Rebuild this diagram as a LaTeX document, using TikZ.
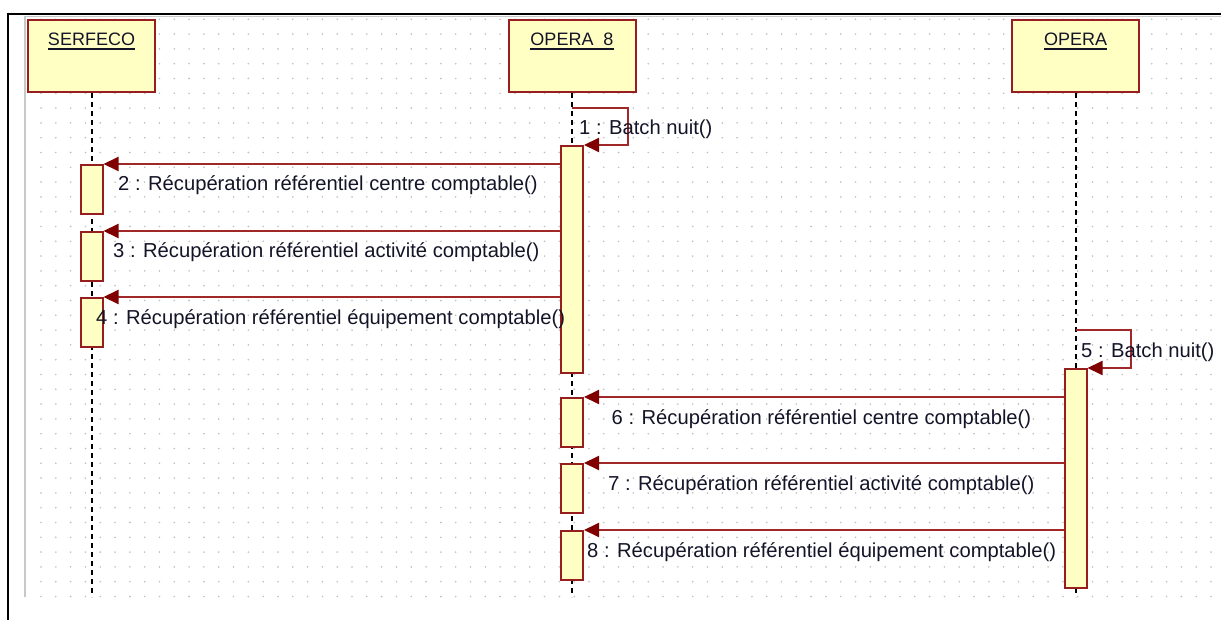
\documentclass[tikz,border=0pt]{standalone}
\usepackage{fontspec}
\setmainfont{Liberation Sans}
\usetikzlibrary{arrows.meta,calc}
\definecolor{boxfill}{RGB}{255,255,196}
\definecolor{boxline}{RGB}{150,30,30}
\definecolor{msgline}{RGB}{160,40,40}
\definecolor{headc}{RGB}{128,0,0}
\definecolor{dotc}{RGB}{190,190,190}
\definecolor{txt}{RGB}{20,20,40}
\definecolor{frameg}{RGB}{200,200,200}
\begin{document}
\begin{tikzpicture}[x=1pt,y=-1pt,
  lbl/.style={font=\fontsize{20.2}{23}\selectfont, text=txt, inner sep=0pt, anchor=base west},
  hdr/.style={font=\fontsize{18}{21}\selectfont, text=txt, inner sep=0pt, anchor=base},
  objbox/.style={draw=boxline, fill=boxfill, line width=2pt, minimum width=127pt, minimum height=72pt, inner sep=0pt, anchor=north},
  actbox/.style={draw=boxline, fill=boxfill, line width=2pt, minimum width=22pt, inner sep=0pt, anchor=north},
  lifeline/.style={black, line width=2pt, dash pattern=on 5pt off 4pt},
  msg/.style={msgline, line width=2pt, -{Triangle[length=15pt,width=14pt,color=headc,fill=headc]}},
  uline/.style={txt, line width=1.7pt}
]
\useasboundingbox (0,0) rectangle (1221,620);
% grid of dots
\foreach \i in {1,...,80}{\foreach \j in {0,...,39}{%
  \fill[dotc] ({26.2+14.81*\i},{19.3+14.8*\j}) circle (0.9pt);}}
% frame
\draw[frameg, line width=1.8pt] (25,16) -- (25,597);
\draw[frameg, line width=1pt] (25,16.5) -- (1221,16.5);
\draw[black, line width=2.6pt] (8,14) -- (1221,14);
\draw[black, line width=2.6pt] (8,12.7) -- (8,620);
% objects
\node[objbox] (serfeco) at (91.5,19) {};
\node[objbox] (opera8) at (572,19) {};
\node[objbox] (opera) at (1075.5,19) {};
\node[hdr] (tS) at (91.5,46) {SERFECO};
\node[hdr] (t8) at (572,46) {OPERA\ \ 8};
\node[hdr] (tO) at (1075.5,46) {OPERA};
\draw[uline] ($(tS.base west)+(0,3)$) -- ($(tS.base east)+(0,3)$);
\draw[uline] ($(t8.base west)+(0,3)$) -- ($(t8.base east)+(0,3)$);
\draw[uline] ($(tO.base west)+(0,3)$) -- ($(tO.base east)+(0,3)$);
% lifelines
\coordinate (endS) at (91.5,597);
\coordinate (end8) at (572,597);
\coordinate (endO) at (1075.5,597);
\draw[lifeline] (serfeco.south) -- (endS);
\draw[lifeline] (opera8.south) -- (end8);
\draw[lifeline] (opera.south) -- (endO);
% activations
\node[actbox, minimum height=227pt] (big8) at (572,145) {};
\node[actbox, minimum height=219pt] (bigO) at (1075.5,368) {};
\node[actbox, minimum height=49pt] (a2) at (91.5,164) {};
\node[actbox, minimum height=49pt] (a3) at (91.5,231) {};
\node[actbox, minimum height=49pt] (a4) at (91.5,297) {};
\node[actbox, minimum height=49pt] (a6) at (572,397) {};
\node[actbox, minimum height=49pt] (a7) at (572,463) {};
\node[actbox, minimum height=49pt] (a8) at (572,530) {};
% self calls
\coordinate (s1a) at (572,108);
\coordinate (s1b) at (628,108);
\coordinate (s1c) at (628,145);
\draw[msg] (s1a) -- (s1b) -- (s1c) -- (big8.north east);
\coordinate (s5a) at (1075.5,330);
\coordinate (s5b) at (1131,330);
\coordinate (s5c) at (1131,368);
\draw[msg] (s5a) -- (s5b) -- (s5c) -- (bigO.north east);
% messages
\draw[msg] (a2.north east -| big8.west) -- (a2.north east);
\draw[msg] (a3.north east -| big8.west) -- (a3.north east);
\draw[msg] (a4.north east -| big8.west) -- (a4.north east);
\draw[msg] (a6.north east -| bigO.west) -- (a6.north east);
\draw[msg] (a7.north east -| bigO.west) -- (a7.north east);
\draw[msg] (a8.north east -| bigO.west) -- (a8.north east);
% labels
\node[lbl] (l1) at (579,135) {1 : Batch nuit()};
\node[lbl] (l2) at (118,191) {2 : Récupération référentiel centre comptable()};
\node[lbl] (l3) at (113,258) {3 : Récupération référentiel activité comptable()};
\node[lbl] (l4) at (96,324) {4 : Récupération référentiel équipement comptable()};
\node[lbl] (l5) at (1081,357) {5 : Batch nuit()};
\node[lbl] (l6) at (611.5,424) {6 : Récupération référentiel centre comptable()};
\node[lbl] (l7) at (608,490) {7 : Récupération référentiel activité comptable()};
\node[lbl] (l8) at (587,557) {8 : Récupération référentiel équipement comptable()};
\end{tikzpicture}
\end{document}
